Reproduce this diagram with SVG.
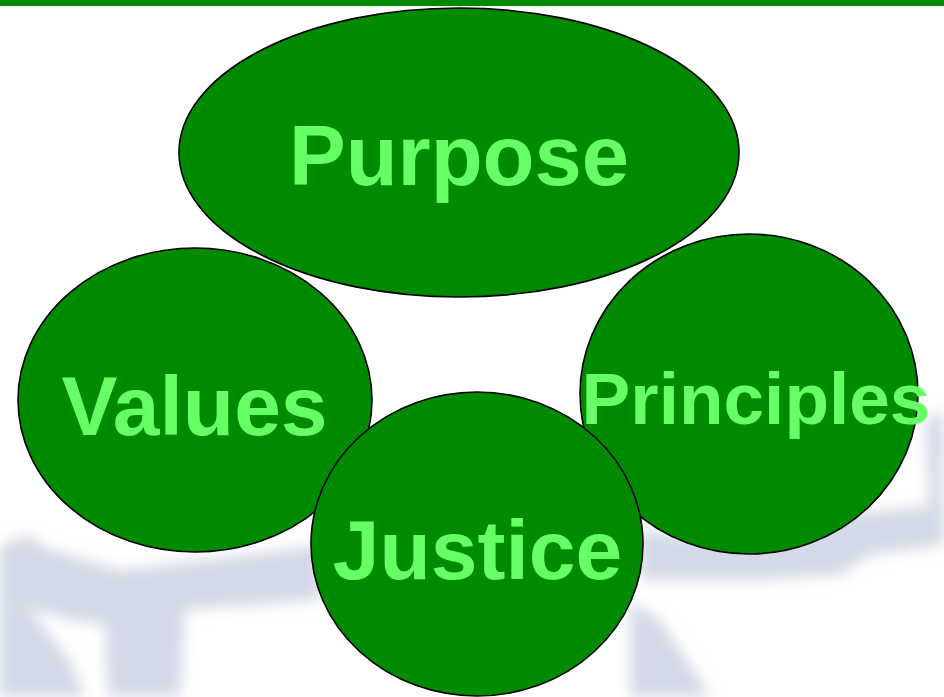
<svg xmlns="http://www.w3.org/2000/svg" width="944" height="697" viewBox="0 0 944 697">
<defs>
<style>
.node ellipse{fill:#008a00;stroke:#000;stroke-width:1.6}
.node text{fill:#66ff66;font-family:"Liberation Sans",Arial,sans-serif;font-weight:bold;text-anchor:middle}
</style>
<filter id="blur" x="-10%" y="-10%" width="120%" height="120%"><feGaussianBlur stdDeviation="7"/></filter>
</defs>
<rect x="0" y="0" width="944" height="697" fill="#ffffff"/>
<g id="watermark" fill="#d3d9e6" filter="url(#blur)">
<path d="M0 545 L30 535 L45 548 L120 570 L300 548 L320 545 L320 600 L185 610 L180 697 L108 697 L105 625 L70 620 L0 600 Z"/>
<path d="M0 600 L30 610 L70 660 L85 697 L0 697 Z"/>
<path d="M640 530 L760 545 L830 515 L944 505 L944 545 L870 555 L840 575 L760 580 L700 580 L640 580 Z"/>
<path d="M630 600 L660 620 L700 680 L710 697 L630 697 Z"/>
<path d="M925 420 L944 410 L944 520 L930 520 Z"/>
</g>
<rect id="topbar" x="0" y="0" width="944" height="6" fill="#008800"/>
<g id="connectors"></g>
<g id="values" class="node">
<ellipse cx="195" cy="400" rx="177" ry="152"/>
<text x="194.5" y="435" font-size="84">Values</text>
</g>
<g id="principles" class="node">
<ellipse cx="749" cy="394" rx="169" ry="160"/>
<text x="756" y="424" font-size="73">Principles</text>
</g>
<g id="purpose" class="node">
<ellipse cx="459" cy="152.5" rx="280" ry="144.5"/>
<text x="459" y="185" font-size="85">Purpose</text>
</g>
<g id="justice" class="node">
<ellipse cx="477" cy="544" rx="166" ry="152"/>
<text x="477.5" y="579" font-size="84">Justice</text>
</g>
</svg>
